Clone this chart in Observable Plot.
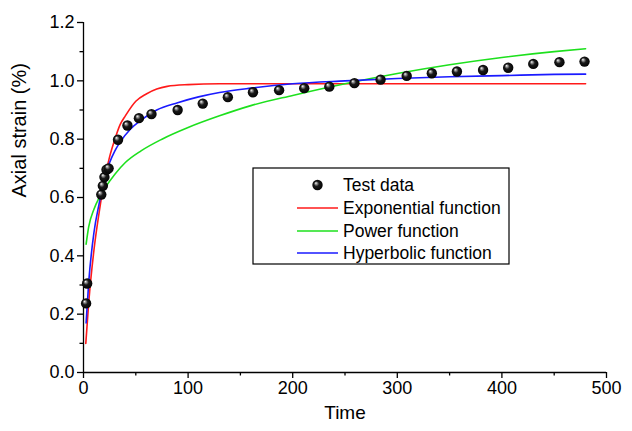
<!DOCTYPE html>
<html>
<head>
<meta charset="utf-8">
<script src="https://cdn.jsdelivr.net/npm/d3@7"></script>
<script src="https://cdn.jsdelivr.net/npm/@observablehq/plot@0.6"></script>
<style>
  body { margin: 0; background: #fff; }
  #chart svg { display: block; }
</style>
</head>
<body>
<div id="chart"></div>
<script>
// Creep test: measured axial strain and three fitted models
const testTime   = [2.5, 3.5, 17, 18.5, 20, 22, 24, 33, 42, 53, 65, 90, 114, 138, 162, 187, 211, 235, 259, 284, 309, 333, 357, 382, 406, 430, 455, 479];
const testStrain = [0.237, 0.305, 0.61, 0.64, 0.67, 0.695, 0.70, 0.798, 0.847, 0.872, 0.886, 0.90, 0.922, 0.944, 0.961, 0.968, 0.975, 0.98, 0.992, 1.004, 1.017, 1.026, 1.032, 1.037, 1.045, 1.058, 1.064, 1.066];

const expTime   = [2.2, 5, 10, 15, 20, 25, 30, 35, 40, 50, 60, 70, 80, 100, 130, 200, 300, 400, 480];
const expStrain = [0.10, 0.24, 0.42, 0.55, 0.66, 0.74, 0.80, 0.85, 0.88, 0.93, 0.955, 0.972, 0.981, 0.987, 0.99, 0.99, 0.99, 0.99, 0.99];

const powTime   = [2.5, 5, 10, 15, 20, 30, 40, 55, 75, 100, 130, 160, 200, 250, 300, 350, 400, 450, 480];
const powStrain = [0.44, 0.50, 0.56, 0.60, 0.63, 0.68, 0.72, 0.76, 0.80, 0.84, 0.88, 0.915, 0.95, 0.99, 1.025, 1.055, 1.08, 1.10, 1.11];

const hypTime   = [2.5, 5, 10, 15, 20, 25, 30, 35, 45, 55, 70, 90, 110, 130, 160, 200, 250, 300, 350, 400, 450, 480];
const hypStrain = [0.17, 0.31, 0.48, 0.58, 0.665, 0.72, 0.76, 0.79, 0.835, 0.865, 0.90, 0.925, 0.945, 0.96, 0.975, 0.99, 1.0, 1.008, 1.014, 1.018, 1.022, 1.023];

const seriesNames  = ["Test data", "Exponential function", "Power function", "Hyperbolic function"];
const seriesColors = ["#000000", "#ff1a1a", "#1de01d", "#1a1aff"];

const xTicks = [0, 100, 200, 300, 400, 500];
const xMinor = [50, 150, 250, 350, 450];
const yTicks = [0, 0.2, 0.4, 0.6, 0.8, 1.0, 1.2];
const yMinor = [0.1, 0.3, 0.5, 0.7, 0.9, 1.1];

const testRows = testTime.map((t, i) => ({t, v: testStrain[i]}));
const fitRows = [
  [seriesNames[1], expTime, expStrain],
  [seriesNames[2], powTime, powStrain],
  [seriesNames[3], hypTime, hypStrain]
].flatMap(([name, ts, vs]) => ts.map((t, i) => ({name, t, v: vs[i]})));

const font = "'Liberation Sans', Arial, sans-serif";

const chart = Plot.plot({
  width: 632,
  height: 431,
  marginLeft: 83,
  marginRight: 26,
  marginTop: 22,
  marginBottom: 59,
  style: {fontFamily: font, fontSize: "18px", color: "#000", background: "#fff", overflow: "visible"},
  x: {domain: [0, 500]},
  y: {domain: [0, 1.2]},
  color: {domain: seriesNames.slice(1), range: seriesColors.slice(1)},
  marks: [
    Plot.axisX({ticks: xTicks, tickSize: 6, tickPadding: 3, tickFormat: d => d, label: null, stroke: "#000", strokeWidth: 1.3, fontSize: 18}),
    Plot.axisX({ticks: xMinor, tickSize: 3.5, tickFormat: () => "", label: null, stroke: "#000", strokeWidth: 1.3}),
    Plot.axisY({ticks: yTicks, tickSize: 6, tickPadding: 3, tickFormat: d3.format(".1f"), label: null, stroke: "#000", strokeWidth: 1.3, fontSize: 18}),
    Plot.axisY({ticks: yMinor, tickSize: 3.5, tickFormat: () => "", label: null, stroke: "#000", strokeWidth: 1.3}),
    Plot.ruleY([0], {stroke: "#000", strokeWidth: 1.3}),
    Plot.ruleX([0], {stroke: "#000", strokeWidth: 1.3}),
    Plot.text(["Time"], {frameAnchor: "bottom", dy: 40, fontSize: 19, lineAnchor: "middle"}),
    Plot.text(["Axial strain (%)"], {frameAnchor: "left", dx: -64, rotate: -90, fontSize: 20, lineAnchor: "middle"}),
    Plot.line(fitRows, {x: "t", y: "v", z: "name", stroke: "name", strokeWidth: 1.6, curve: "monotone-x"}),
    Plot.dot(testRows, {x: "t", y: "v", r: 5.2, fill: "url(#ball)", stroke: "none"})
  ]
});

const svg = d3.select(chart);
svg.insert("defs", ":first-child").html(
  `<radialGradient id="ball" cx="0.5" cy="0.5" r="0.55" fx="0.33" fy="0.3">
     <stop offset="0" stop-color="#ffffff"/>
     <stop offset="0.18" stop-color="#9a9a9a"/>
     <stop offset="0.45" stop-color="#1a1a1a"/>
     <stop offset="1" stop-color="#000000"/>
   </radialGradient>`
);

// Legend box inside the plot area
const legend = {left: 253, top: 168, width: 256, height: 96, rowY: [185, 208, 231, 253], swatchX0: 297, swatchX1: 338, textX: 343};
const g = svg.append("g")
  .attr("font-family", font)
  .attr("font-size", 17.5)
  .attr("text-anchor", "start");
g.append("rect")
  .attr("x", legend.left).attr("y", legend.top)
  .attr("width", legend.width).attr("height", legend.height)
  .attr("fill", "#fff").attr("stroke", "#000").attr("stroke-width", 1.2);
seriesNames.forEach((name, i) => {
  const y = legend.rowY[i];
  if (i === 0) {
    g.append("circle").attr("cx", (legend.swatchX0 + legend.swatchX1) / 2).attr("cy", y).attr("r", 5.2).attr("fill", "url(#ball)");
  } else {
    g.append("line").attr("x1", legend.swatchX0).attr("x2", legend.swatchX1).attr("y1", y).attr("y2", y)
      .attr("stroke", seriesColors[i]).attr("stroke-width", 1.6);
  }
  g.append("text")
    .attr("x", legend.textX).attr("y", y).attr("dy", "0.35em")
    .attr("text-anchor", "start").attr("fill", "#000")
    .text(name);
});

document.getElementById("chart").append(chart);
</script>
</body>
</html>
